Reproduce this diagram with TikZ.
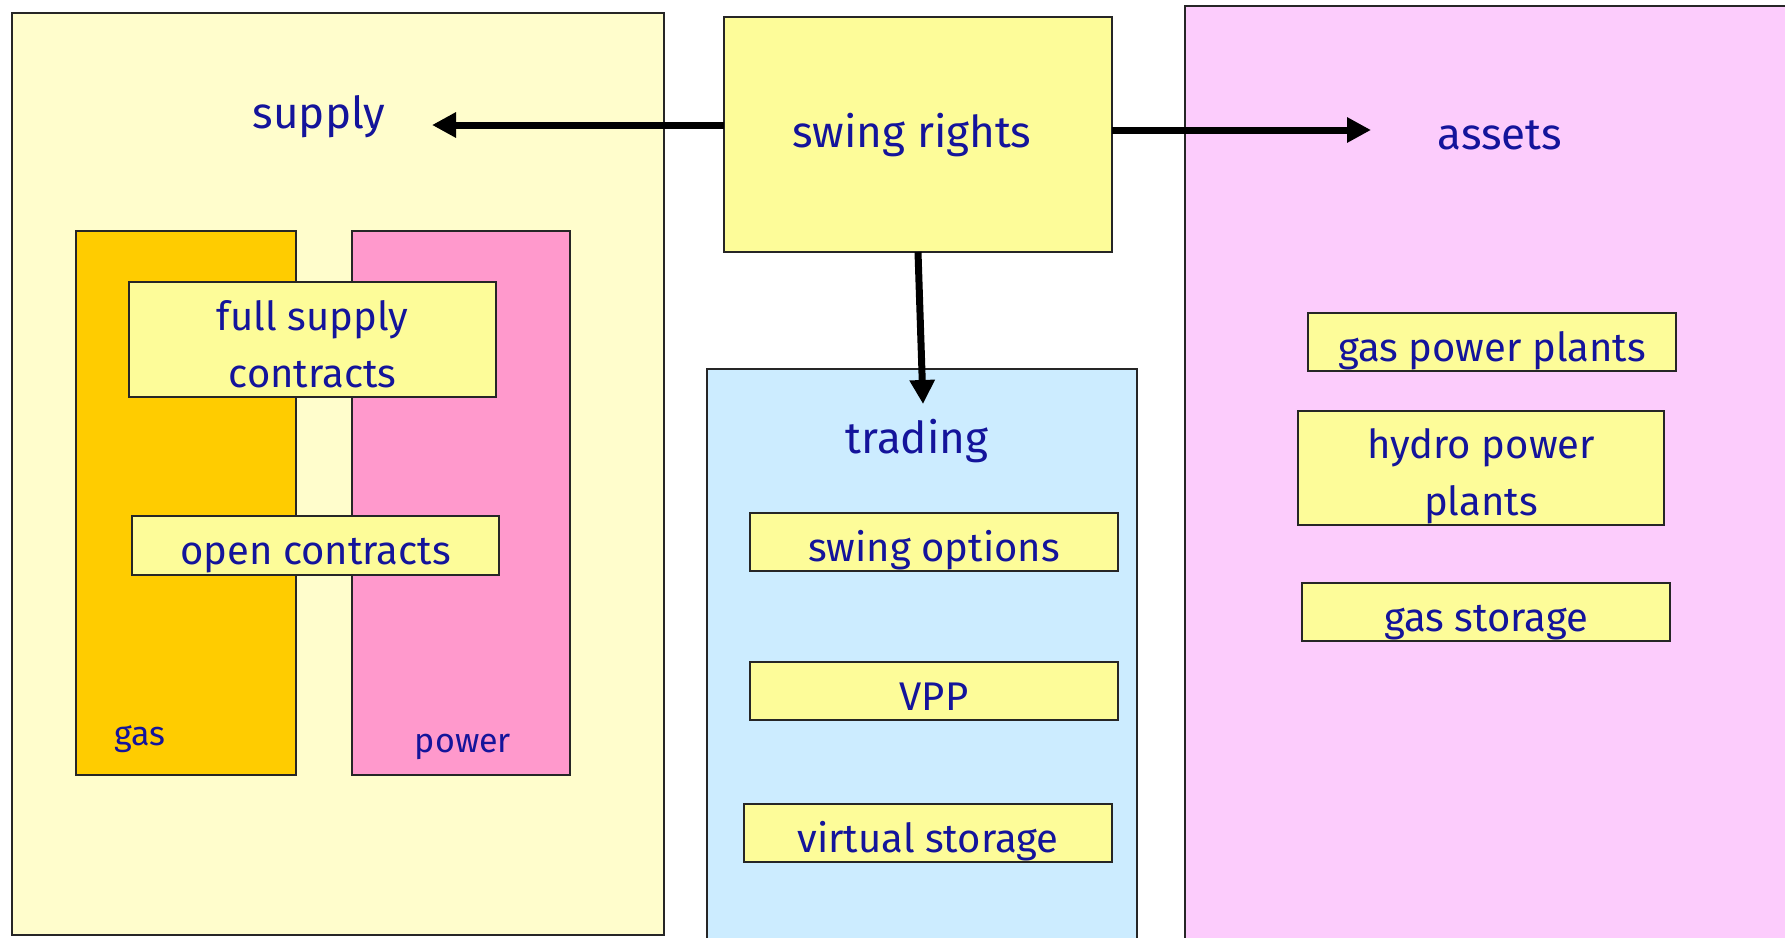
\documentclass[tikz,border=0pt]{standalone}
\usepackage{fontspec}
\setmainfont{Fira Sans}
\usetikzlibrary{arrows.meta}
\definecolor{txt}{RGB}{20,20,155}
\definecolor{supplybg}{RGB}{255,253,204}
\definecolor{notebg}{RGB}{253,252,153}
\definecolor{gasc}{RGB}{255,204,0}
\definecolor{powerc}{RGB}{255,153,204}
\definecolor{tradebg}{RGB}{204,236,255}
\definecolor{assetbg}{RGB}{252,204,252}
\newcommand{\lowtext}[1]{\raisebox{-8pt}[\height][\depth]{\begin{tabular}{@{}c@{}}#1\end{tabular}}}
\begin{document}
\begin{tikzpicture}[x=1pt,y=-1pt,
  area/.style={draw=black!85, line width=1.6pt, inner sep=0pt, outer sep=0pt, anchor=north west},
  notebox/.style={area, fill=notebg, text=txt, font=\fontsize{40}{57}\selectfont},
  biglbl/.style={text=txt, inner sep=0pt, font=\fontsize{44}{52}\selectfont},
  smalllbl/.style={text=txt, inner sep=0pt, font=\fontsize{34}{40}\selectfont},
  conn/.style={line width=7pt, -{Triangle[length=24pt,width=24pt]}}]
\useasboundingbox (0,0) rectangle (1785,937);
\fill[white] (0,0) rectangle (1785,937);
\clip (0,0) rectangle (1785,937);
% supply
\node[area, fill=supplybg, minimum width=652, minimum height=922] (supply) at (12,13) {};
\node[biglbl] (supplyt) at (319,117) {supply};
\node[area, fill=gasc, minimum width=220, minimum height=544] (gas) at (76,231) {};
\node[area, fill=powerc, minimum width=218, minimum height=544] (power) at (352,231) {};
\node[smalllbl] (gast) at (140,739) {gas};
\node[smalllbl] (powert) at (463,747) {power};
\node[notebox, minimum width=367, minimum height=115] (full) at (129,282) {\lowtext{full supply\\contracts}};
\node[notebox, minimum width=367, minimum height=59] (open) at (132,516) {\lowtext{open contracts}};
% trading
\node[area, fill=tradebg, minimum width=430, minimum height=620] (trading) at (707,369) {};
\node[biglbl] (tradingt) at (917,441) {trading};
\node[notebox, minimum width=368, minimum height=58] (swingopt) at (750,513) {\lowtext{swing options}};
\node[notebox, minimum width=368, minimum height=58] (vpp) at (750,662) {\lowtext{VPP}};
\node[notebox, minimum width=368, minimum height=58] (vstor) at (744,804) {\lowtext{virtual storage}};
% assets
\node[area, fill=assetbg, minimum width=700, minimum height=1000] (assets) at (1185,6) {};
\node[biglbl] (assetst) at (1500,135) {assets};
\node[notebox, minimum width=368, minimum height=58] (gpp) at (1308,313) {\lowtext{gas power plants}};
\node[notebox, minimum width=366, minimum height=114] (hpp) at (1298,411) {\lowtext{hydro power\\plants}};
\node[notebox, minimum width=368, minimum height=58] (gstor) at (1302,583) {\lowtext{gas storage}};
% swing rights
\node[area, fill=notebg, minimum width=388, minimum height=235] (swing) at (724,17) {};
\node[biglbl] (swingt) at (912,135) {swing rights};
% connectors
\coordinate (supplytip) at (432,125);
\coordinate (assetstip) at (1371,130);
\coordinate (tradetip) at (923,404);
\draw[conn] (swing.west |- supplytip) -- (supplytip);
\draw[conn] (swing.east |- assetstip) -- (assetstip);
\draw[conn] (swing.south) -- (tradetip);
\end{tikzpicture}
\end{document}
